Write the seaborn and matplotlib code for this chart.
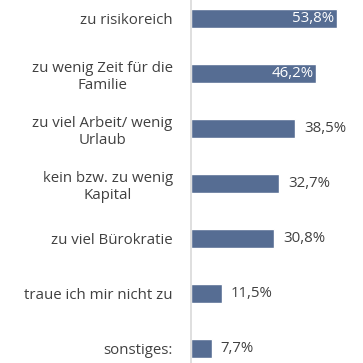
import matplotlib
matplotlib.use("Agg")
import matplotlib.pyplot as plt
import seaborn as sns
import pandas as pd

# data
categories = [
    "zu risikoreich",
    "zu wenig Zeit für die\nFamilie",
    "zu viel Arbeit/ wenig\nUrlaub",
    "kein bzw. zu wenig\nKapital",
    "zu viel Bürokratie",
    "traue ich mir nicht zu",
    "sonstiges:",
]
values = [53.8, 46.2, 38.5, 32.7, 30.8, 11.5, 7.7]
value_labels = ["53,8%", "46,2%", "38,5%", "32,7%", "30,8%", "11,5%", "7,7%"]

df = pd.DataFrame({"grund": categories, "anteil": values})

sns.set_style("white")
plt.rcParams['font.family'] = ['Open Sans', 'DejaVu Sans']

bar_color = "#566d93"
text_color = "#404040"
fs = 10.8

fig = plt.figure(figsize=(3.63, 3.63), dpi=100)
ax = fig.add_axes([190.7 / 363, 0, 1 - 190.7 / 363, 1])

sns.barplot(data=df, x="anteil", y="grund", color=bar_color, width=0.345,
            saturation=1, ax=ax)

ax.set_xlim(0, 63.5)
ax.set_ylim(6.26, -0.336)

# value labels: inside for the two long bars, outside for the rest
for i, (v, lab) in enumerate(zip(values, value_labels)):
    if v > 45:
        ax.text(v - 0.9, i, lab, ha="right", va="center", color="white", fontsize=fs)
    else:
        ax.text(v + 3.3, i, lab, ha="left", va="center", color=text_color, fontsize=fs)

ax.set_xlabel("")
ax.set_ylabel("")
ax.set_xticks([])
ax.tick_params(axis="y", length=0, pad=13, labelsize=fs, labelcolor=text_color)
for t in ax.get_yticklabels():
    t.set_multialignment("center")
    t.set_linespacing(1.2)

for s in ["top", "right", "bottom"]:
    ax.spines[s].set_visible(False)
ax.spines["left"].set_color("#d9d9d9")
ax.spines["left"].set_linewidth(1.2)

fig.savefig("out.png", dpi=100)
